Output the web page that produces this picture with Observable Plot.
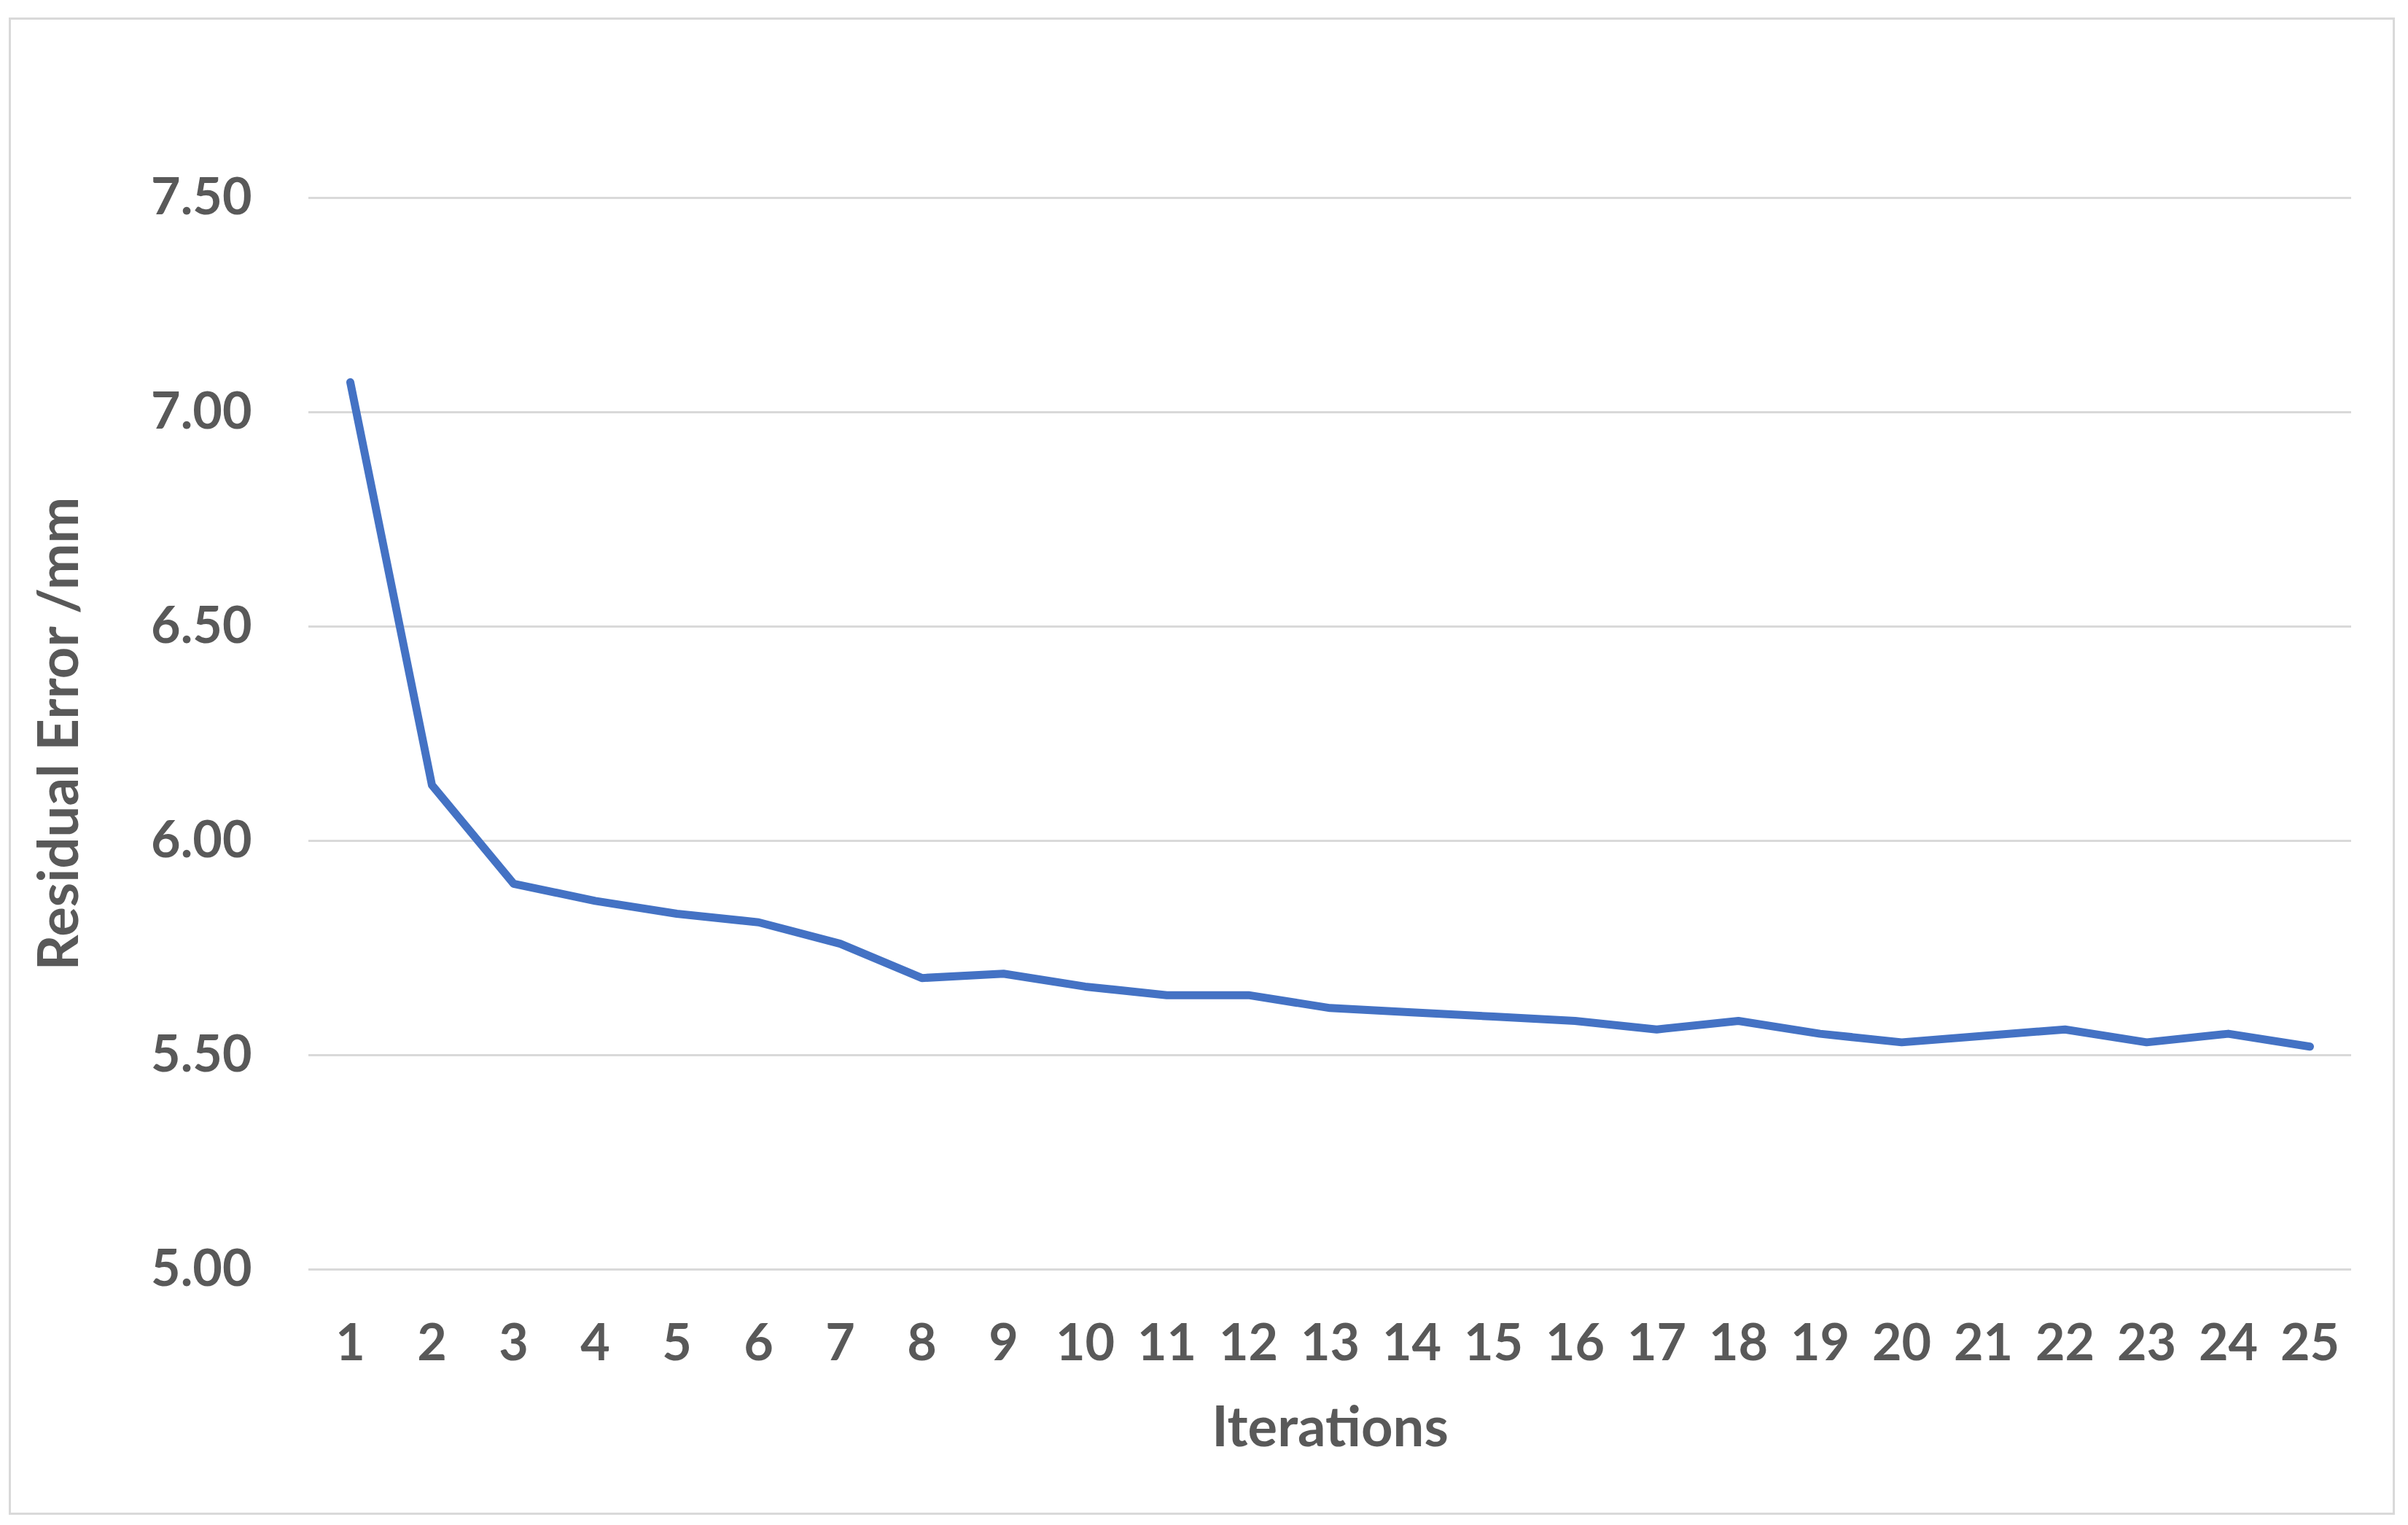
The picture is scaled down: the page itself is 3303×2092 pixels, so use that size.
<!DOCTYPE html>
<html>
<head>
<meta charset="utf-8">
<script src="https://cdn.jsdelivr.net/npm/d3@7"></script>
<script src="https://cdn.jsdelivr.net/npm/@observablehq/plot@0.6"></script>
<style>
  html, body { margin: 0; padding: 0; background: #fff; }
  #wrap { position: relative; width: 3303px; height: 2092px; }
  #border { position: absolute; left: 12px; top: 24px; width: 3267px; height: 2048px; border: 3px solid #D9D9D9; box-sizing: content-box; pointer-events: none; }
  svg { font-family: Lato, "Open Sans", sans-serif; }
</style>
</head>
<body>
<div id="wrap"><div id="border"></div></div>
<script>
const iterations = [1,2,3,4,5,6,7,8,9,10,11,12,13,14,15,16,17,18,19,20,21,22,23,24,25];
const residualError = [7.07, 6.13, 5.90, 5.86, 5.83, 5.81, 5.76, 5.68, 5.69, 5.66, 5.64, 5.64, 5.61, 5.60, 5.59, 5.58, 5.56, 5.58, 5.55, 5.53, 5.545, 5.56, 5.53, 5.55, 5.52];
const yTicks = [5.00, 5.50, 6.00, 6.50, 7.00, 7.50];
const xLabel = "Iterations";
const yLabel = "Residual Error /mm";

const data = iterations.map((it, i) => ({it, v: residualError[i]}));

const chart = Plot.plot({
  width: 3303,
  height: 2092,
  marginLeft: 423,
  marginRight: 78,
  marginTop: 271,
  marginBottom: 351,
  style: {fontFamily: "Lato, 'Open Sans', sans-serif", fontSize: "70px", fontWeight: "bold", color: "#595959", background: "transparent"},
  x: {type: "point", domain: iterations, padding: 0.5},
  y: {domain: [5, 7.5]},
  marks: [
    Plot.ruleY(yTicks, {stroke: "#D9D9D9", strokeWidth: 3}),
    Plot.axisY({ticks: yTicks, tickFormat: d3.format(".2f"), tickSize: 0, tickPadding: 78, fill: "#595959", fontWeight: "bold", fontSize: 70, label: null}),
    Plot.axisY({ticks: [], tickSize: 0, fill: "#595959", fontWeight: "bold", fontSize: 76,
      label: yLabel, labelAnchor: "center", labelArrow: "none", labelOffset: 370}),
    Plot.axisX({tickSize: 0, tickPadding: 75, fill: "#595959", fontWeight: "bold", fontSize: 70, label: null}),
    Plot.axisX({ticks: [], tickSize: 0, fill: "#595959", fontWeight: "bold", fontSize: 76,
      label: xLabel, labelAnchor: "center", labelArrow: "none", labelOffset: 242}),
    Plot.line(data, {x: "it", y: "v", stroke: "#4472C4", strokeWidth: 11, strokeLinecap: "round", strokeLinejoin: "round"})
  ]
});
document.getElementById("wrap").prepend(chart);
</script>
</body>
</html>
